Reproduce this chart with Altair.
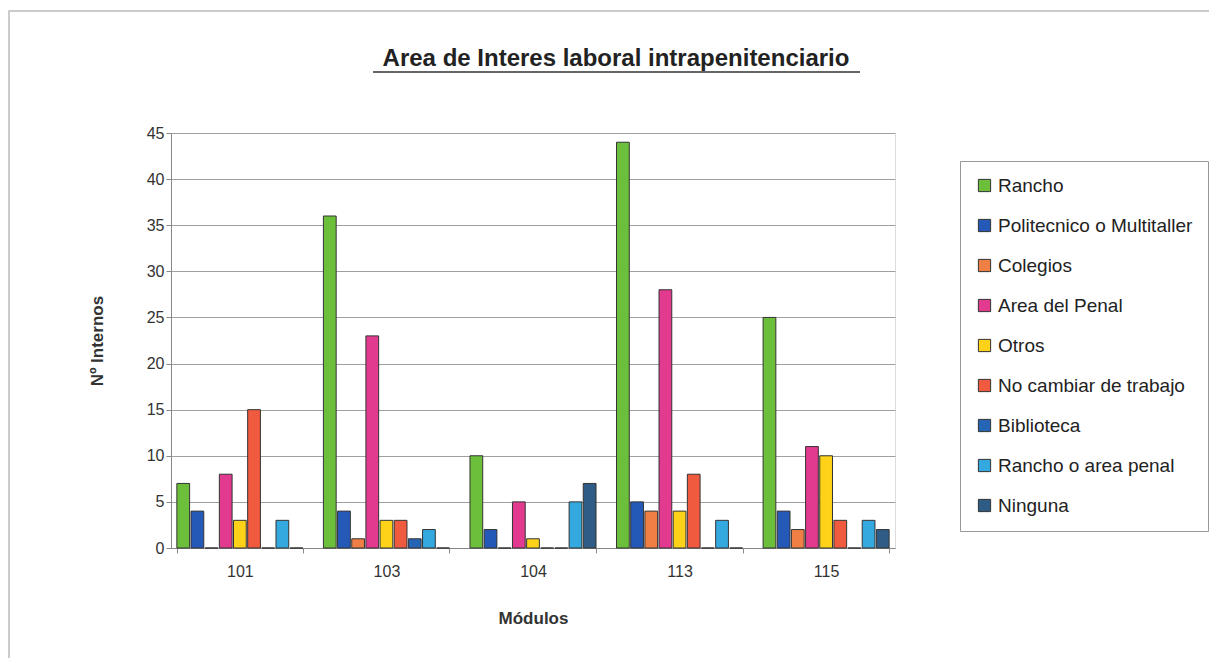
import altair as alt
import pandas as pd

modulos = ["101", "103", "104", "113", "115"]
series = ["Rancho", "Politecnico o Multitaller", "Colegios", "Area del Penal", "Otros",
          "No cambiar de trabajo", "Biblioteca", "Rancho o area penal", "Ninguna"]
colors = ["#6CBF3A", "#2459B8", "#F07F45", "#E23A8E", "#FFD21A",
          "#F05A3E", "#2466B5", "#33A9DF", "#2E5C86"]

rancho = [7, 36, 10, 44, 25]
politecnico = [4, 4, 2, 5, 4]
colegios = [0, 1, 0, 4, 2]
area_penal = [8, 23, 5, 28, 11]
otros = [3, 3, 1, 4, 10]
no_cambiar = [15, 3, 0, 8, 3]
biblioteca = [0, 1, 0, 0, 0]
rancho_area = [3, 2, 5, 3, 3]
ninguna = [0, 0, 7, 0, 2]

values = [rancho, politecnico, colegios, area_penal, otros,
          no_cambiar, biblioteca, rancho_area, ninguna]

rows = []
for s, vals in zip(series, values):
    for m, v in zip(modulos, vals):
        rows.append({"Módulo": m, "Serie": s, "Valor": v})
df = pd.DataFrame(rows)

FONT = "Liberation Sans"

bars = alt.Chart(df).mark_bar(stroke="#333333", strokeWidth=1).encode(
    x=alt.X("Módulo:N", sort=modulos,
            scale=alt.Scale(paddingInner=0.14, paddingOuter=0.04),
            axis=alt.Axis(title="Módulos", labelAngle=0, labelFontSize=16,
                          labelColor="#333333", titleFontSize=17, titleFontWeight="bold",
                          titleColor="#333333", titlePadding=31, labelPadding=10,
                          tickBand="extent", domainColor="#888888", tickColor="#888888",
                          labelFont=FONT, titleFont=FONT)),
    xOffset=alt.XOffset("Serie:N", sort=series, scale=alt.Scale(paddingInner=0.1)),
    y=alt.Y("Valor:Q", scale=alt.Scale(domain=[0, 45]),
            axis=alt.Axis(title="Nº Internos", values=list(range(0, 46, 5)),
                          labelFontSize=16, labelColor="#333333", titleFontSize=17,
                          titleFontWeight="bold", titleColor="#333333", titlePadding=40,
                          gridColor="#A0A0A0", domainColor="#888888", tickColor="#888888",
                          labelFont=FONT, titleFont=FONT)),
    color=alt.Color("Serie:N", sort=series,
                    scale=alt.Scale(domain=series, range=colors),
                    legend=alt.Legend(title=None, orient="none", legendX=789, legendY=28,
                                      symbolType="square", symbolSize=150,
                                      symbolStrokeColor="#333333", symbolStrokeWidth=1,
                                      labelFontSize=19, labelFont=FONT, labelColor="#222222",
                                      rowPadding=20, strokeColor="#999999", padding=15,
                                      labelLimit=300)),
)

border = alt.Chart(pd.DataFrame({"a": [0]})).mark_rect(
    fill=None, stroke="#BBBBBB", strokeWidth=1.5
).encode(x=alt.value(-162), x2=alt.value(1046), y=alt.value(-122), y2=alt.value(530))

title = alt.Chart(pd.DataFrame({"t": ["Area de Interes laboral intrapenitenciario"]})).mark_text(
    font=FONT, fontSize=24, fontWeight="bold", color="#222222", align="center", baseline="alphabetic"
).encode(text="t:N", x=alt.value(445), y=alt.value(-67))

underline = alt.Chart(pd.DataFrame({"a": [0]})).mark_rule(color="#333333", strokeWidth=1.5).encode(
    x=alt.value(202), x2=alt.value(689), y=alt.value(-61)
)

chart = alt.layer(border, bars, title, underline).properties(
    width=724, height=415,
    autosize=alt.AutoSizeParams(type="none"),
    padding={"left": 163, "top": 125, "right": 314, "bottom": 110},
).configure_view(stroke="#BBBBBB").configure(font=FONT)

chart.save("out.html", embed_options={"renderer": "svg", "actions": False})
